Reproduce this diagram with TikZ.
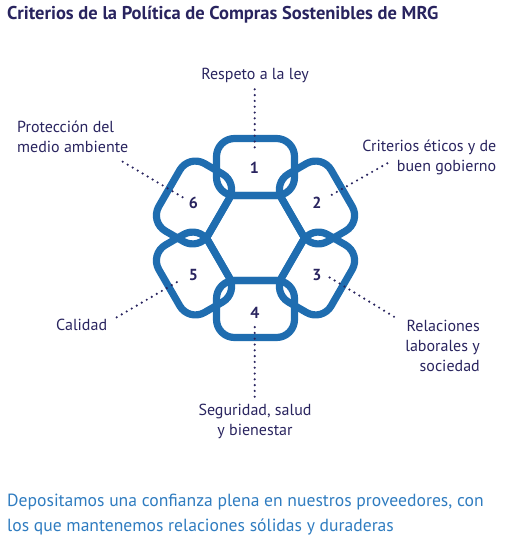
\documentclass[tikz,border=0pt]{standalone}
\usepackage{fontspec}
\setmainfont{PT Sans}
\definecolor{ringblue}{HTML}{1F6DB0}
\definecolor{navy}{HTML}{29245F}
\definecolor{textblue}{HTML}{2F7CC0}
\begin{document}
\begin{tikzpicture}[x=1pt,y=-1pt,
  ring/.style={draw=ringblue,line width=7.2pt,line join=round},
  petal/.style={ring,rounded corners=18pt},
  num/.style={text=navy,font=\fontsize{16}{16}\selectfont\bfseries,inner sep=0pt},
  lbl/.style={text=navy,font=\fontsize{16}{20}\selectfont,inner sep=0pt},
  dotline/.style={draw=navy,line width=2.4pt,line cap=round,dash pattern=on 0pt off 5.8pt}]
\useasboundingbox (0,0) rectangle (504,544);
% title
\node[anchor=base west,text=navy,font=\fontsize{18.5}{20}\selectfont\bfseries,inner sep=0pt] (title) at (7,19) {Criterios de la Política de Compras Sostenibles de MRG};
% ring of petals
\coordinate (C) at (255.5,238);
\foreach \k in {0,...,5}{
  \begin{scope}[shift={(C)},rotate=-60*\k]
    \draw[petal] (-39,-42.5) rectangle (39,-99.5);
  \end{scope}
}
\begin{scope}[shift={(C)}]
  \draw[ring,line join=miter] (0:49) -- (60:49) -- (120:49) -- (180:49) -- (240:49) -- (300:49) -- cycle;
\end{scope}
% numbers
\node[num] (n1) at (254.5,168) {1};
\node[num] (n2) at (317,203) {2};
\node[num] (n3) at (317,275) {3};
\node[num] (n4) at (255,313) {4};
\node[num] (n5) at (193.5,275) {5};
\node[num] (n6) at (193.5,203) {6};
% labels (base anchor = baseline of last line)
\node[lbl,anchor=base] (l1) at (255,79) {Respeto a la ley};
\node[lbl,anchor=base east,align=right] (l2) at (496.5,171.7) {Criterios éticos y de\\buen gobierno};
\node[lbl,anchor=base east,align=right] (l3) at (480,371) {Relaciones\\laborales y\\sociedad};
\node[lbl,anchor=base,align=center] (l4) at (255,435.7) {Seguridad, salud\\y bienestar};
\node[lbl,anchor=base west] (l5) at (56,330) {Calidad};
\node[lbl,anchor=base west,align=left] (l6) at (17,152.3) {Protección del\\medio ambiente};
% dotted leaders
\coordinate (d1a) at (254.7,89.3);  \coordinate (d1b) at (254.7,152);
\coordinate (d2a) at (387.3,163.3); \coordinate (d2b) at (327.3,197.3);
\coordinate (d3a) at (394,316.7);   \coordinate (d3b) at (329.3,277.3);
\coordinate (d4a) at (254.7,396.7); \coordinate (d4b) at (254.7,326.7);
\coordinate (d5a) at (116.7,317.3); \coordinate (d5b) at (181.7,279.3);
\coordinate (d6a) at (122.7,161.7); \coordinate (d6b) at (182.7,197.3);
\foreach \i in {1,...,6}{\draw[dotline] (d\i a) -- (d\i b);}
% bottom text
\node[anchor=base west,align=left,text=textblue,font=\fontsize{17.6}{25.7}\selectfont,inner sep=0pt] (foot) at (7,531.7) {Depositamos una confianza plena en nuestros proveedores, con\\los que mantenemos relaciones sólidas y duraderas};
\end{tikzpicture}
\end{document}
